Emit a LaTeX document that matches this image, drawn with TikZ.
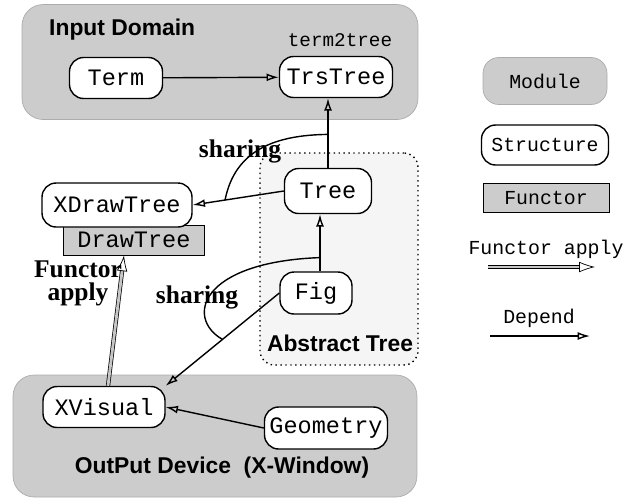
\documentclass[tikz,border=0pt]{standalone}
\usepackage{fontspec}
\setmainfont{Liberation Serif}
\setsansfont{Liberation Sans}
\setmonofont{Liberation Mono}
\usetikzlibrary{arrows.meta,calc}
\tikzstyle{module} = [draw=gray!65,fill=gray!40,rounded corners=12pt]
\tikzstyle{struct} = [draw,thick,fill=white,rounded corners=8pt,font=\fontsize{13.4}{15}\ttfamily,minimum height=0.82cm,inner sep=2pt]
\tikzstyle{functor} = [draw,fill=gray!40,font=\fontsize{13.4}{15}\ttfamily,inner sep=2pt]
\tikzstyle{depend} = [line width=0.8pt,-{Latex[open,length=7pt,width=4.5pt]}]
\tikzstyle{fapply} = [double=gray!45,double distance=1.6pt,-{Latex[open,length=9pt,width=6pt]}]
\tikzstyle{modlabel} = [font=\fontsize{13}{15}\sffamily\bfseries]
\tikzstyle{sharelabel} = [font=\fontsize{14.5}{16}\bfseries]
\tikzstyle{legend} = [font=\fontsize{11.3}{13}\ttfamily]

\begin{document}
\begin{tikzpicture}[x=0.02cm,y=-0.02cm]
	\useasboundingbox (0,0) rectangle (641,498);

	% modules
	\node[module,minimum width=7.92cm,minimum height=2.3cm] (indom) at (220,62) {};
	\node[module,minimum width=8.08cm,minimum height=2.44cm] (outdev) at (215,436) {};
	\node[draw,dotted,thick,fill=gray!8,rounded corners=8pt,minimum width=3.16cm,minimum height=4.24cm] (abs) at (339,259) {};

	% module labels
	\node[modlabel,anchor=west] (indomlbl) at (43,30) {Input Domain};
	\node[legend,font=\fontsize{11}{13}\ttfamily] (t2t) at (340,40) {term2tree};
	\node[modlabel] (abslbl) at (340,343) {Abstract Tree};
	\node[modlabel] (outlbl) at (222,468) {OutPut Device\ \ (X-Window)};

	% functor behind XDrawTree
	\node[functor,minimum width=2.82cm,minimum height=0.6cm] (dtree) at (134,240) {\raisebox{-2pt}{DrawTree}};

	% structures
	\node[struct,minimum width=1.86cm] (term) at (116,78) {Term};
	\node[struct,minimum width=2.26cm] (trs) at (336,77) {TrsTree};
	\node[struct,minimum width=1.74cm,minimum height=0.9cm] (tree) at (328,191) {Tree};
	\node[struct,minimum width=1.44cm,minimum height=0.84cm] (fig) at (316,293) {Fig};
	\node[struct,minimum width=3.0cm,minimum height=0.88cm] (xdt) at (117,205) {XDrawTree};
	\node[struct,minimum width=2.44cm] (xvis) at (104,407) {XVisual};
	\node[struct,minimum width=2.46cm,minimum height=0.84cm] (geo) at (326,428) {Geometry};

	% end points off the node centres
	\coordinate (fign) at ($(fig.north)+(4,0)$);
	\coordinate (xvisn) at ($(xvis.north)+(4,0)$);
	\coordinate (dtrees) at ($(dtree.south)+(-10,0)$);

	% depend arrows
	\draw[depend] (term) -- (trs);
	\draw[depend] (tree.north) -- (tree.north |- trs.south);
	\draw[depend] (fign) -- (fign |- tree.south);
	\draw[depend] (tree.west) -- (xdt.east);
	\draw[depend] (fig.west) -- (xvis.north east);
	\draw[depend] (geo.west) -- (xvis.east);

	% functor apply
	\draw[fapply] (xvisn) -- (dtrees);
	\node[sharelabel,align=center] (falbl) at (78,283) {Functor\\[-3pt]apply};

	% sharing
	\path (tree.west) -- (xdt.east) coordinate[pos=0.645] (sa1);
	\path (tree.north) -- (tree.north |- trs.south) coordinate[pos=0.48] (sa2);
	\draw[line width=0.8pt] (sa1) .. controls (235,150) and (275,135) .. (sa2);
	\node[sharelabel] (sh1) at (240,151) {sharing};
	\path (fig.west) -- (xvis.north east) coordinate[pos=0.5] (sb1);
	\path (fign) -- (fign |- tree.south) coordinate[pos=0.24] (sb2);
	\draw[line width=0.8pt] (sb1) .. controls (185,318) and (200,262) .. (sb2);
	\node[sharelabel] (sh2) at (197,297) {sharing};

	% legend
	\node[module,legend,minimum width=2.48cm,minimum height=0.94cm,rounded corners=9pt] (lmod) at (545,81) {Module};
	\node[struct,legend,minimum width=2.54cm,minimum height=0.8cm] (lstr) at (545,145) {Structure};
	\node[functor,legend,minimum width=2.52cm,minimum height=0.58cm] (lfun) at (546,198) {Functor};
	\node[legend] (lfa) at (546,249) {Functor apply};
	\coordinate (fa1) at (488,267);
	\coordinate (fa2) at (595,267);
	\draw[fapply] (fa1) -- (fa2);
	\node[legend] (ldep) at (539,318) {Depend};
	\coordinate (dp1) at (490,336);
	\coordinate (dp2) at (590,336);
	\draw[depend] (dp1) -- (dp2);
\end{tikzpicture}
\end{document}
